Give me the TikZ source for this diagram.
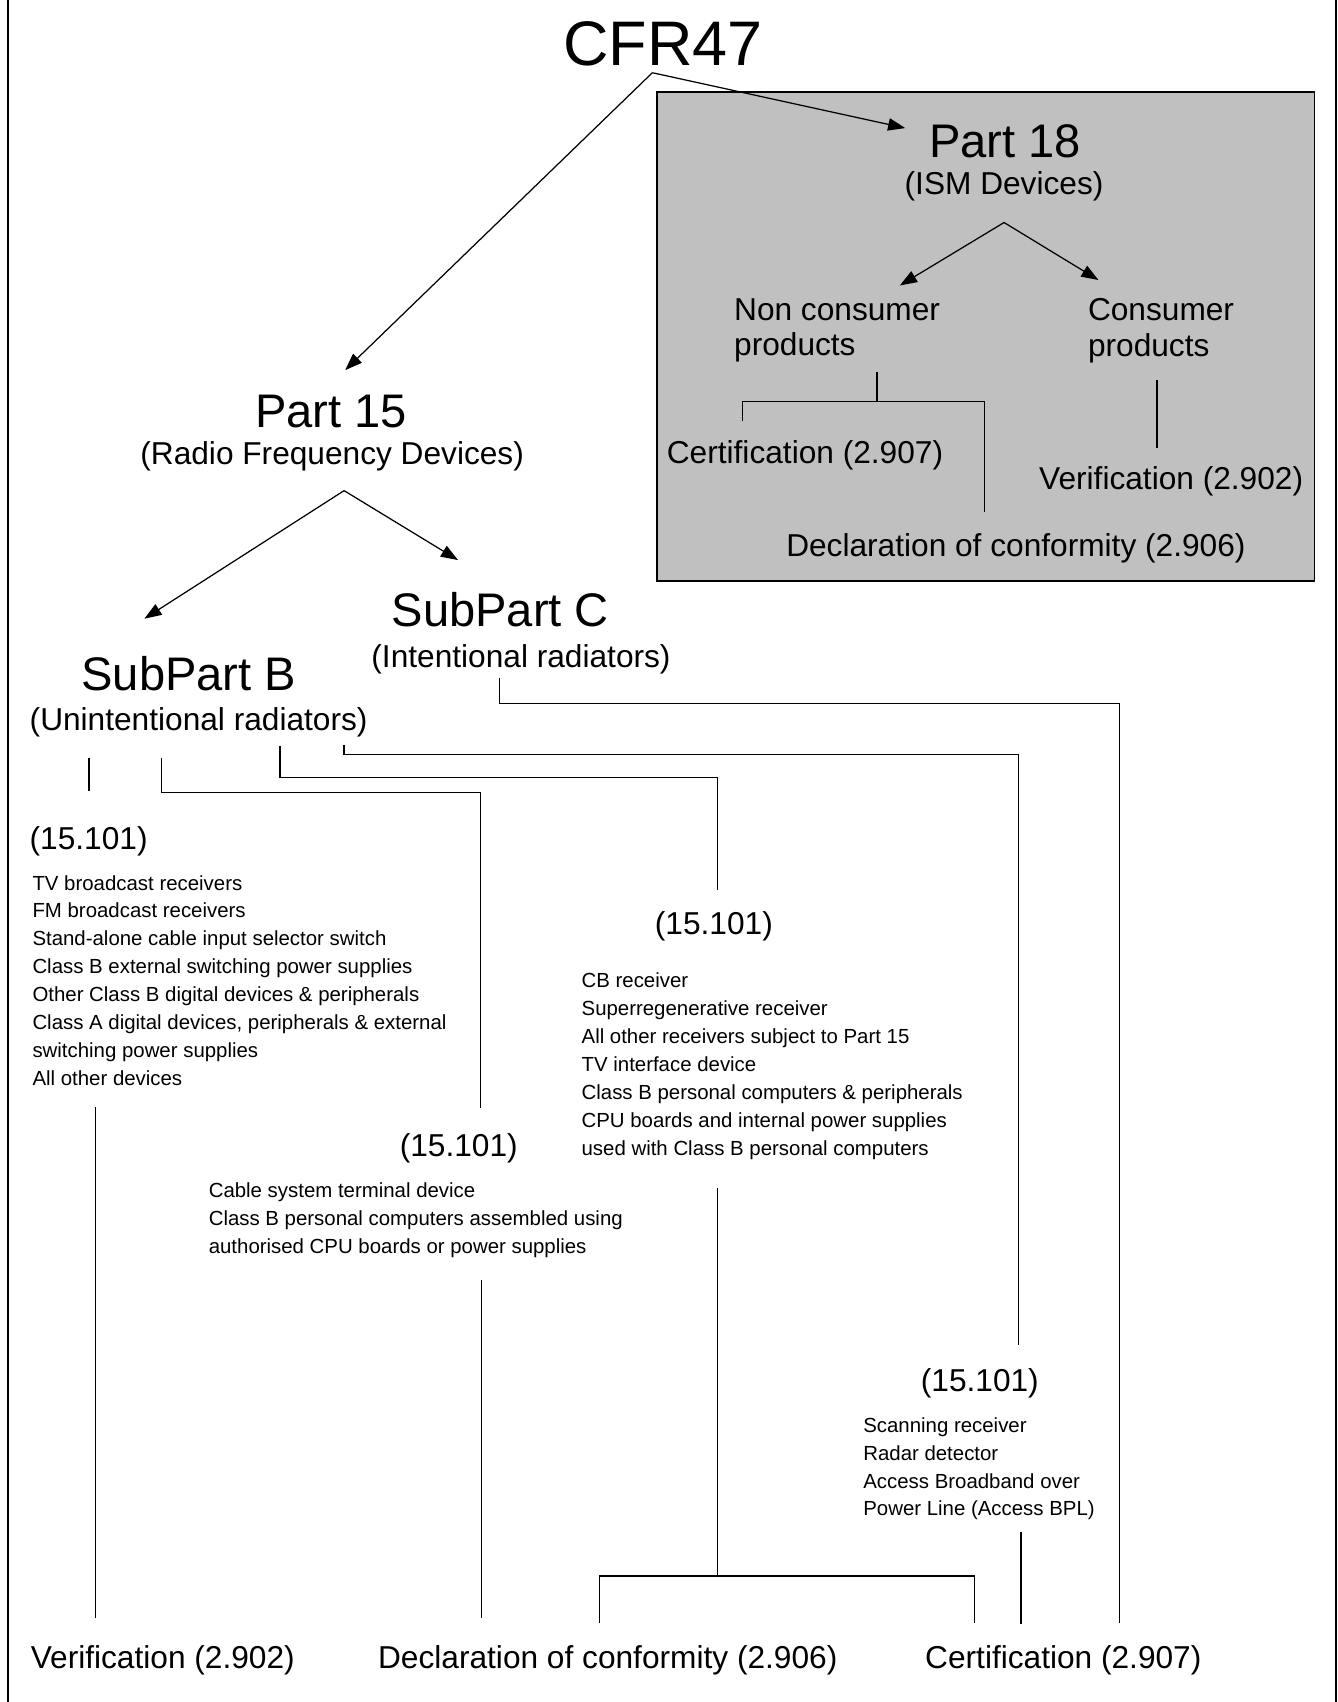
\documentclass[tikz,border=0pt]{standalone}
\usepackage{fontspec}
\setmainfont{Liberation Sans}
\usetikzlibrary{arrows.meta}
\definecolor{ismgray}{RGB}{192,192,192}
\tikzset{
  cfrtext/.style={inner sep=0pt, anchor=base, font=\fontsize{33}{36}\selectfont},
  parttext/.style={inner sep=0pt, anchor=base, font=\fontsize{24.7}{28}\selectfont},
  subtext/.style={inner sep=0pt, anchor=base, font=\fontsize{16.6}{17.4}\selectfont},
  reftext/.style={inner sep=0pt, anchor=base west, font=\fontsize{16.6}{17.4}\selectfont},
  prodtext/.style={inner sep=0pt, anchor=north west, align=left, font=\fontsize{16.6}{18.5}\selectfont},
  itemtext/.style={inner sep=0pt, anchor=north west, align=left, font=\fontsize{10.7}{14.63}\selectfont},
  wire/.style={line width=0.65pt},
  feed/.style={line width=0.65pt, -{Triangle[length=9pt,width=6.5pt]}},
}
\begin{document}
\begin{tikzpicture}[x=0.02cm,y=-0.02cm]
\useasboundingbox (0,0) rectangle (1232,1568);
\draw[line width=1.1pt] (7,0) -- (7,1568);
\draw[line width=1.1pt] (1231,0) -- (1231,1568);
\draw[fill=ismgray, line width=1pt] (605,85) rectangle (1211,535);
\node[cfrtext] (cfr) at (611,60){CFR47};
\coordinate (cfrfoot) at (601,67);
\node[parttext] (part18) at (926,145){Part 18};
\node[subtext] (ism) at (925,179){(ISM Devices)};
\coordinate (part18tip) at (834,118);
\draw[feed](cfrfoot) -- (part18tip);
\coordinate (ismfork) at (925,205);
\coordinate (nonconstip) at (829,263);
\coordinate (constip) at (1012,258);
\draw[feed](ismfork) -- (nonconstip);
\draw[feed](ismfork) -- (constip);
\node[prodtext] (noncons) at (676,275){Non consumer\\products};
\node[prodtext] (cons) at (1002,275){Consumer\\products};
\node[reftext] (cert18) at (614,427){Certification (2.907)};
\node[reftext] (ver18) at (957,451){Verification (2.902)};
\node[reftext] (decl18) at (724,513){Declaration of conformity (2.906)};
\coordinate (nonconsfoot) at (808,343);
\coordinate (cert18top) at (684,388);
\coordinate (decl18top) at (907,472);
\coordinate (consfoot) at (1066,350);
\coordinate (ver18top) at (1066,413);
\draw[wire](nonconsfoot) -- ++(0,27) -| (cert18top);
\draw[wire](nonconsfoot) ++(0,27) -| (decl18top);
\draw[wire](consfoot) -- (ver18top);
\node[parttext] (part15) at (305,394){Part 15};
\node[subtext] (rfd) at (306,428){(Radio Frequency Devices)};
\coordinate (part15tip) at (318,341);
\draw[feed](cfrfoot) -- (part15tip);
\coordinate (rfdfork) at (317,452);
\coordinate (subBtip) at (133,570);
\coordinate (subCtip) at (422,516);
\draw[feed](rfdfork) -- (subBtip);
\draw[feed](rfdfork) -- (subCtip);
\node[parttext] (subC) at (461,577){SubPart C};
\node[subtext] (intent) at (480,615){(Intentional radiators)};
\node[parttext] (subB) at (174,636){SubPart B};
\node[subtext] (unintent) at (183,673){(Unintentional radiators)};
\node[reftext] (ref1) at (27,783){(15.101)};
\node[itemtext] (list1) at (29.6,806){TV broadcast receivers\\FM broadcast receivers\\Stand-alone cable input selector switch\\Class B external switching power supplies\\Other Class B digital devices \& peripherals\\Class A digital devices, peripherals \& external\\switching power supplies\\All other devices};
\node[reftext] (ref2) at (603,861){(15.101)};
\node[itemtext] (list2) at (535.5,896){CB receiver\\Superregenerative receiver\\All other receivers subject to Part 15\\TV interface device\\Class B personal computers \& peripherals\\CPU boards and internal power supplies\\used with Class B personal computers};
\node[reftext] (ref3) at (368,1065){(15.101)};
\node[itemtext] (list3) at (192,1089){Cable system terminal device\\Class B personal computers assembled using\\authorised CPU boards or power supplies};
\node[reftext] (ref4) at (848,1282){(15.101)};
\node[itemtext] (list4) at (795,1305.5){Scanning receiver\\Radar detector\\Access Broadband over\\Power Line (Access BPL)};
\node[reftext] (ver15) at (28,1537){Verification (2.902)};
\node[reftext] (decl15) at (348,1537){Declaration of conformity (2.906)};
\node[reftext] (cert15) at (852,1537){Certification (2.907)};
\coordinate (subCfoot) at (460,625);
\coordinate (cert15topC) at (1031,1495);
\draw[wire](subCfoot) -- ++(0,23) -| (cert15topC);
\coordinate (subBfootA) at (82,698);
\coordinate (ref1top) at (82,729);
\draw[wire](subBfootA) -- (ref1top);
\coordinate (subBfootB) at (149,698);
\coordinate (ref3top) at (443,1021);
\draw[wire](subBfootB) -- ++(0,32) -| (ref3top);
\coordinate (subBfootC) at (258,687);
\coordinate (ref2top) at (661,820);
\draw[wire](subBfootC) -- ++(0,29) -| (ref2top);
\coordinate (subBfootD) at (317,686);
\coordinate (ref4top) at (938,1239);
\draw[wire](subBfootD) -- ++(0,9) -| (ref4top);
\coordinate (list1foot) at (88,1020);
\coordinate (ver15top) at (88,1491);
\draw[wire](list1foot) -- (ver15top);
\coordinate (list3foot) at (443.5,1179);
\coordinate (decl15topA) at (443.5,1491);
\draw[wire](list3foot) -- (decl15topA);
\coordinate (list2foot) at (661,1094);
\coordinate (decl15topB) at (552,1495);
\coordinate (cert15topB) at (898,1495);
\draw[wire](list2foot) -- ++(0,358) -| (decl15topB);
\draw[wire](list2foot) ++(0,358) -| (cert15topB);
\coordinate (list4foot) at (940.6,1411);
\coordinate (cert15topA) at (940.6,1496);
\draw[wire](list4foot) -- (cert15topA);
\end{tikzpicture}
\end{document}
